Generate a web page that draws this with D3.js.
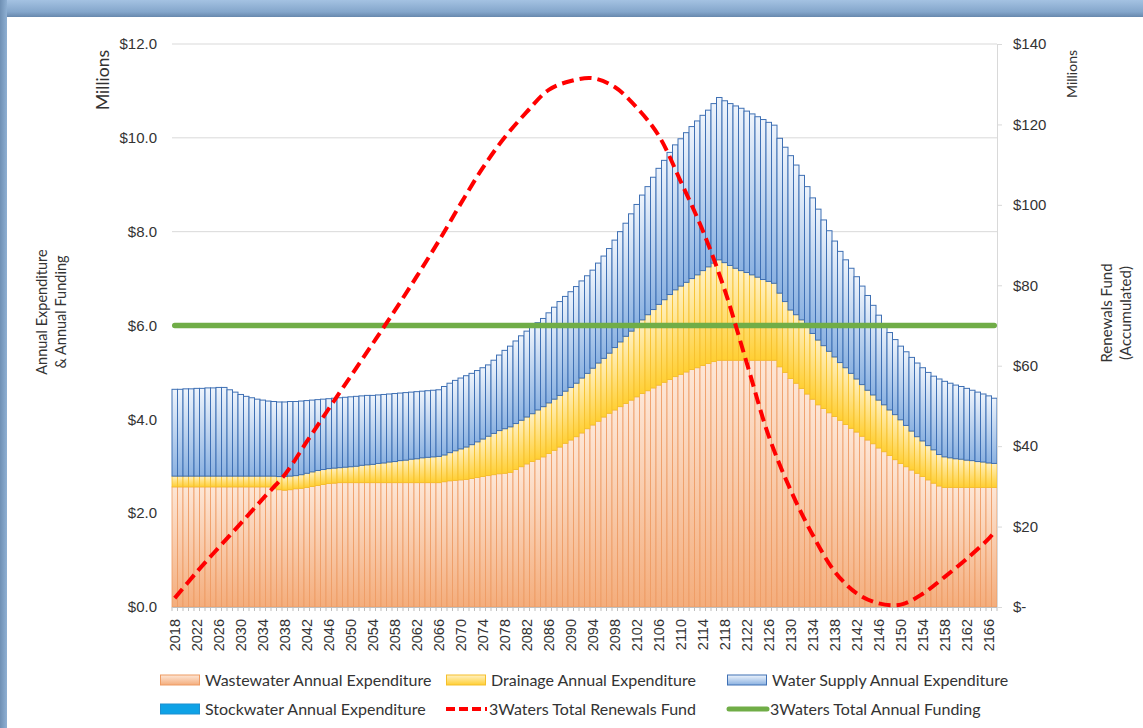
<!DOCTYPE html>
<html>
<head>
<meta charset="utf-8">
<script src="https://cdn.jsdelivr.net/npm/d3@7"></script>
<style>
  body { margin: 0; background: #fff; }
  svg { display: block; font-family: Lato, "Open Sans", sans-serif; }
</style>
</head>
<body>
<svg id="chart" width="1143" height="728"></svg>
<script>
// ---- data ($ millions) ----
const firstYear = 2018;
const lastYear = 2167;
const years = d3.range(firstYear, lastYear + 1);

const wastewater = [
  2.56, 2.56, 2.56, 2.56, 2.56, 2.56, 2.56, 2.56, 2.56, 2.56,
  2.56, 2.56, 2.56, 2.56, 2.56, 2.56, 2.56, 2.56,
  2.52, 2.50, 2.49, 2.50, 2.52, 2.53, 2.55, 2.57, 2.59, 2.61, 2.63, 2.64,
  2.65, 2.65, 2.65, 2.65, 2.65, 2.65, 2.65, 2.65, 2.65, 2.65,
  2.65, 2.65, 2.65, 2.65, 2.65, 2.65, 2.65, 2.65, 2.65,
  2.67, 2.69, 2.70, 2.71, 2.72, 2.74, 2.76, 2.78, 2.80, 2.82,
  2.84, 2.85, 2.87, 2.93, 2.99, 3.05, 3.10, 3.15, 3.20, 3.27,
  3.34, 3.41, 3.49, 3.56, 3.63, 3.71, 3.80, 3.88, 3.96, 4.05,
  4.13, 4.20, 4.27, 4.34, 4.41, 4.48, 4.55, 4.61, 4.67, 4.73,
  4.79, 4.85, 4.91, 4.96, 5.01, 5.06, 5.10, 5.15, 5.19, 5.23,
  5.26, 5.26, 5.26, 5.26, 5.26, 5.26, 5.26, 5.26, 5.26, 5.26, 5.26,
  5.12, 5.00, 4.87, 4.77, 4.66, 4.54, 4.43, 4.31, 4.23, 4.14,
  4.06, 3.98, 3.89, 3.81, 3.73, 3.64, 3.56, 3.48, 3.39, 3.31,
  3.23, 3.14, 3.06, 2.99, 2.92, 2.85, 2.78, 2.71, 2.64, 2.58,
  2.55, 2.55, 2.55, 2.55, 2.55, 2.55, 2.55, 2.55, 2.55, 2.55
];

const drainage = [
  0.23, 0.23, 0.23, 0.23, 0.23, 0.23, 0.23, 0.23, 0.23, 0.23,
  0.23, 0.23, 0.23, 0.23, 0.23, 0.23, 0.23, 0.23,
  0.27, 0.28, 0.29, 0.29, 0.28, 0.29, 0.30, 0.31, 0.32, 0.32, 0.32, 0.32,
  0.32, 0.33, 0.34, 0.35, 0.37, 0.38, 0.39, 0.41, 0.42, 0.44,
  0.45, 0.47, 0.48, 0.50, 0.51, 0.53, 0.54, 0.55, 0.56,
  0.57, 0.60, 0.63, 0.66, 0.69, 0.72, 0.76, 0.80, 0.84, 0.88,
  0.92, 0.95, 0.97, 0.98, 0.99, 1.00, 1.02, 1.05, 1.07, 1.08,
  1.09, 1.10, 1.11, 1.12, 1.14, 1.17, 1.18, 1.21, 1.24, 1.25,
  1.28, 1.33, 1.38, 1.43, 1.47, 1.52, 1.57, 1.62, 1.67, 1.72,
  1.76, 1.81, 1.85, 1.88, 1.91, 1.94, 1.98, 2.02, 2.06, 2.10,
  2.14, 2.08, 2.02, 1.96, 1.91, 1.87, 1.82, 1.77, 1.72, 1.68, 1.64,
  1.57, 1.51, 1.46, 1.46, 1.46, 1.44, 1.40, 1.38, 1.34, 1.31,
  1.27, 1.23, 1.21, 1.17, 1.13, 1.10, 1.06, 1.04, 1.02, 1.00,
  0.97, 0.96, 0.93, 0.88, 0.83, 0.78, 0.76, 0.73, 0.71, 0.67,
  0.65, 0.63, 0.61, 0.60, 0.58, 0.57, 0.55, 0.54, 0.52, 0.51
];

const waterSupply = [
  1.85, 1.85, 1.86, 1.86, 1.87, 1.87, 1.88, 1.88, 1.89, 1.89,
  1.84, 1.79, 1.74, 1.70, 1.67, 1.64, 1.62, 1.60, 1.59, 1.59,
  1.59, 1.59, 1.58, 1.57, 1.55, 1.53, 1.51, 1.50, 1.49, 1.49,
  1.49, 1.49, 1.49, 1.49, 1.48, 1.48, 1.47, 1.46, 1.46, 1.45,
  1.45, 1.44, 1.44, 1.43, 1.43, 1.42, 1.42, 1.42, 1.42,
  1.46, 1.48, 1.50, 1.51, 1.52, 1.52, 1.52, 1.52, 1.52, 1.56,
  1.61, 1.67, 1.72, 1.76, 1.80, 1.83, 1.85, 1.86, 1.88, 1.92,
  1.96, 2.00, 2.02, 2.04, 2.06, 2.07, 2.08, 2.09, 2.13, 2.18,
  2.23, 2.29, 2.35, 2.41, 2.50, 2.58, 2.66, 2.73, 2.82, 2.90,
  2.97, 3.03, 3.09, 3.14, 3.19, 3.24, 3.28, 3.31, 3.34, 3.40,
  3.46, 3.45, 3.45, 3.46, 3.46, 3.44, 3.43, 3.42, 3.41, 3.39, 3.37,
  3.30, 3.29, 3.29, 3.19, 3.08, 2.98, 2.89, 2.79, 2.68, 2.57,
  2.47, 2.37, 2.30, 2.24, 2.18, 2.10, 2.02, 1.91, 1.81, 1.71,
  1.65, 1.60, 1.57, 1.57, 1.57, 1.57, 1.56, 1.56, 1.57, 1.61,
  1.61, 1.59, 1.57, 1.55, 1.53, 1.50, 1.48, 1.45, 1.43, 1.39
];

// stockwater is too small to show in the picture; it only appears in the legend

// accumulated renewals fund (right axis), read every 4 years
const fundYears = [
  2018, 2022, 2026, 2030, 2034, 2038, 2042, 2046, 2050, 2054,
  2058, 2062, 2066, 2070, 2074, 2078, 2082, 2086, 2090, 2094,
  2098, 2102, 2106, 2110, 2114, 2118, 2122, 2126, 2130, 2134,
  2138, 2142, 2146, 2150, 2154, 2158, 2162, 2166, 2167
];
const renewalsFund = [
  2.2, 8.7, 14.8, 20.8, 26.9, 32.9, 41.1, 49.3, 57.4, 65.5,
  73.7, 82.2, 91.0, 100.3, 109.2, 116.8, 123.1, 128.6, 130.8, 131.5,
  129.3, 124.2, 117.2, 105.8, 93.6, 78.8, 60.7, 42.5, 29.0, 17.9,
  8.8, 3.4, 0.9, 0.6, 3.3, 7.5, 12.0, 17.0, 18.6
];

const annualFunding = 6.0;

const leftTicks = [0, 2, 4, 6, 8, 10, 12];
const rightTicks = [0, 20, 40, 60, 80, 100, 120, 140];
const labelYears = years.filter((d, i) => i % 4 === 0);

// ---- layout ----
const W = 1143, H = 728;
const plot = {left: 172, right: 997, top: 44, bottom: 607};
const textColor = '#333333';

const svg = d3.select('#chart');
const defs = svg.append('defs');

function vgrad(id, stops, horizontal) {
    const g = defs.append('linearGradient').attr('id', id)
        .attr('x1', 0).attr('y1', 0)
        .attr('x2', horizontal ? 1 : 0).attr('y2', horizontal ? 0 : 1);
    stops.forEach(([o, c]) => g.append('stop').attr('offset', o).attr('stop-color', c));
}
vgrad('g-waste', [['0%', '#fde6d6'], ['100%', '#f4ad7c']]);
vgrad('g-drain', [['0%', '#fff1c4'], ['100%', '#ffcf33']]);
vgrad('g-water', [['0%', '#eef4fc'], ['100%', '#8ab1e1']]);
vgrad('g-top', [['0%', '#a4c2e2'], ['70%', '#84a6cb'], ['100%', '#6788ad']]);
vgrad('g-left', [['0%', '#6f90b4'], ['100%', '#8fb0d3']], true);

const x = d3.scaleBand()
    .domain(years)
    .range([plot.left, plot.right])
    .padding(0);
const yL = d3.scaleLinear([0, 12], [plot.bottom, plot.top]);
const yR = d3.scaleLinear([0, 140], [plot.bottom, plot.top]);
const bw = x.bandwidth();
const cx = yr => x(yr) + bw / 2;

// window frame
svg.append('rect').attr('x', 0).attr('y', 0).attr('width', W).attr('height', 17).attr('fill', 'url(#g-top)');
svg.append('rect').attr('x', 0).attr('y', 0).attr('width', 7).attr('height', H).attr('fill', 'url(#g-left)');

// gridlines
svg.append('g')
    .selectAll('line')
    .data(leftTicks.slice(1))
    .join('line')
    .attr('x1', plot.left).attr('x2', plot.right)
    .attr('y1', d => yL(d)).attr('y2', d => yL(d))
    .attr('stroke', '#d9d9d9').attr('stroke-width', 1);

// stacked bars
const rows = years.map((year, i) => ({
    year,
    wastewater: wastewater[i],
    drainage: drainage[i],
    waterSupply: waterSupply[i]
}));
const layers = d3.stack().keys(['wastewater', 'drainage', 'waterSupply'])(rows);
const layerStyle = {
    wastewater: {fill: 'url(#g-waste)', stroke: '#ee9b63', sw: 0.8},
    drainage: {fill: 'url(#g-drain)', stroke: '#f5bf2a', sw: 0.8},
    waterSupply: {fill: 'url(#g-water)', stroke: '#3f70b4', sw: 1}
};

svg.append('g')
    .selectAll('g')
    .data(layers)
    .join('g')
    .each(function(layer) {
        const st = layerStyle[layer.key];
        d3.select(this).selectAll('rect')
            .data(layer)
            .join('rect')
            .attr('x', d => x(d.data.year))
            .attr('y', d => yL(d[1]))
            .attr('width', bw)
            .attr('height', d => yL(d[0]) - yL(d[1]))
            .attr('fill', st.fill)
            .attr('stroke', st.stroke)
            .attr('stroke-width', st.sw);
    });

// x axis
const gx = svg.append('g')
    .attr('transform', `translate(0,${plot.bottom})`)
    .call(d3.axisBottom(x).tickValues(labelYears).tickSize(0).tickSizeOuter(0));
gx.select('.domain').attr('stroke', '#bfbfbf');
gx.selectAll('text')
    .attr('transform', 'rotate(-90)')
    .attr('text-anchor', 'end')
    .attr('x', -12)
    .attr('y', 0)
    .attr('dy', '0.35em')
    .attr('fill', textColor)
    .style('font-size', '14.5px');
gx.append('g')
    .selectAll('line')
    .data(years.concat([lastYear + 1]))
    .join('line')
    .attr('x1', d => d > lastYear ? plot.right : x(d))
    .attr('x2', d => d > lastYear ? plot.right : x(d))
    .attr('y1', 0).attr('y2', 4)
    .attr('stroke', '#bfbfbf');

// left axis
const gy = svg.append('g')
    .attr('transform', `translate(${plot.left},0)`)
    .call(d3.axisLeft(yL).tickValues(leftTicks).tickFormat(d => '$' + d3.format('.1f')(d)).tickSize(0).tickPadding(15));
gy.select('.domain').remove();
gy.selectAll('text').attr('fill', textColor).style('font-size', '15px');

// right axis
const gr = svg.append('g')
    .attr('transform', `translate(${plot.right},0)`)
    .call(d3.axisRight(yR).tickValues(rightTicks).tickFormat(d => d === 0 ? '$-' : '$' + d).tickSize(5).tickSizeOuter(0).tickPadding(11));
gr.select('.domain').attr('stroke', '#d9d9d9');
gr.selectAll('.tick line').attr('stroke', '#d9d9d9');
gr.selectAll('text').attr('fill', textColor).style('font-size', '15px');

// funding line
svg.append('path')
    .datum([firstYear, lastYear])
    .attr('d', d3.line().x(d => cx(d)).y(() => yL(annualFunding)))
    .attr('fill', 'none')
    .attr('stroke', '#70ad47')
    .attr('stroke-width', 5.5)
    .attr('stroke-linecap', 'round');

// renewals fund line
svg.append('path')
    .datum(fundYears.map((yr, i) => [yr, renewalsFund[i]]))
    .attr('d', d3.line().x(d => cx(d[0])).y(d => yR(d[1])).curve(d3.curveCatmullRom))
    .attr('fill', 'none')
    .attr('stroke', '#ff0000')
    .attr('stroke-width', 4)
    .attr('stroke-dasharray', '12,6');

// axis titles
function vtext(tx, ty, lines, size, gap) {
    const t = svg.append('text')
        .attr('transform', `translate(${tx},${ty}) rotate(-90)`)
        .attr('text-anchor', 'middle')
        .attr('fill', textColor)
        .style('font-size', size + 'px');
    lines.forEach((l, i) => t.append('tspan').attr('x', 0).attr('y', i * gap).text(l));
}
vtext(109, 80, ['Millions'], 17.5, 0);
vtext(1077, 74, ['Millions'], 14, 0);
vtext(47, 312, ['Annual Expenditure', '& Annual Funding'], 14.5, 19);
vtext(1112, 313, ['Renewals Fund', '(Accumulated)'], 15, 19);

// legend
const legendItems = [
    {label: 'Wastewater Annual Expenditure', type: 'bar', fill: 'url(#g-waste)', stroke: '#ee9b63', col: 0, row: 0},
    {label: 'Drainage Annual Expenditure', type: 'bar', fill: 'url(#g-drain)', stroke: '#f5bf2a', col: 1, row: 0},
    {label: 'Water Supply Annual Expenditure', type: 'bar', fill: 'url(#g-water)', stroke: '#3f70b4', col: 2, row: 0},
    {label: 'Stockwater Annual Expenditure', type: 'bar', fill: '#0ea2e6', stroke: '#1c8fd0', col: 0, row: 1},
    {label: '3Waters Total Renewals Fund', type: 'dash', col: 1, row: 1},
    {label: '3Waters Total Annual Funding', type: 'line', col: 2, row: 1}
];
const legendCols = [160, 446, 727];
const legendRows = [680, 709];

const lg = svg.append('g')
    .selectAll('g')
    .data(legendItems)
    .join('g')
    .attr('transform', d => `translate(${legendCols[d.col]},${legendRows[d.row]})`);

lg.filter(d => d.type === 'bar').append('rect')
    .attr('x', 0.5).attr('y', -5).attr('width', 39).attr('height', 10)
    .attr('fill', d => d.fill).attr('stroke', d => d.stroke);
lg.filter(d => d.type === 'dash').append('line')
    .attr('x1', 0).attr('x2', 41).attr('y1', 0).attr('y2', 0)
    .attr('stroke', '#ff0000').attr('stroke-width', 4).attr('stroke-dasharray', '9,4');
lg.filter(d => d.type === 'line').append('line')
    .attr('x1', 2).attr('x2', 40).attr('y1', 0).attr('y2', 0)
    .attr('stroke', '#70ad47').attr('stroke-width', 5).attr('stroke-linecap', 'round');
lg.append('text')
    .attr('x', d => d.type === 'bar' ? 45 : 43)
    .attr('y', 0)
    .attr('dy', '0.35em')
    .attr('fill', textColor)
    .style('font-size', '16px')
    .text(d => d.label);
</script>
</body>
</html>
